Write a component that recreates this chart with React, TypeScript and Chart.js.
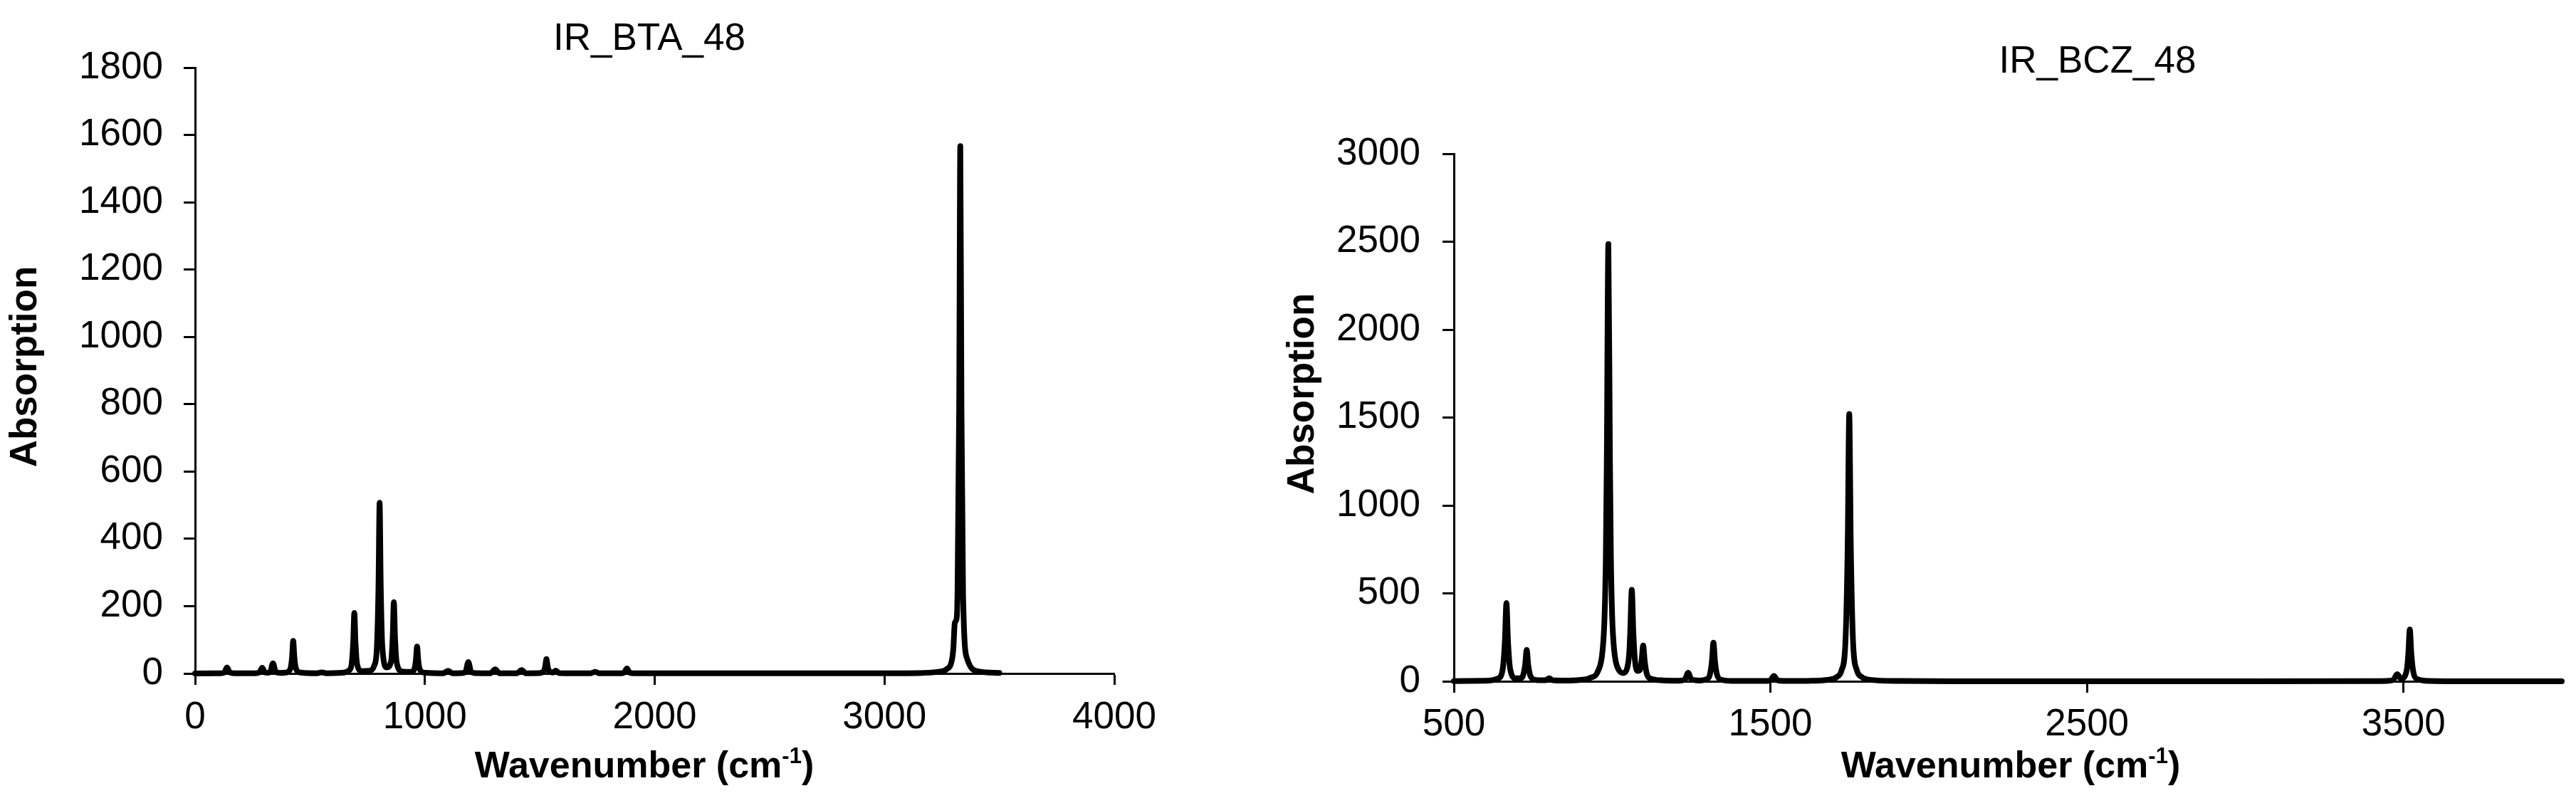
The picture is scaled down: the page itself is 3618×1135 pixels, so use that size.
import React, { useEffect, useRef } from "react";
import { Chart, registerables } from "chart.js";

Chart.register(...registerables);

// ---------------- DATA ----------------
// IR_BTA_48 (left panel)
const BTA_WAVENUMBER = [
  0, 110, 127, 139, 151, 170,
  260, 280, 292, 304, 318, 327, 339, 351, 370,
  395, 415, 422, 427, 432, 439, 460,
  530, 551, 572,
  640, 670, 681, 688, 693, 698, 705, 725, 760, 780, 791, 798, 803, 808, 815, 834, 853, 860, 865, 870, 877, 900, 940, 954, 961, 966, 971, 978, 1000,
  1080, 1101, 1120,
  1160, 1177, 1189, 1201, 1220,
  1285, 1306, 1325,
  1400, 1421, 1440,
  1500, 1517, 1524, 1529, 1534, 1541, 1558, 1569, 1585,
  1720, 1741, 1760,
  1855, 1867, 1879, 1891, 1910,
  2000, 2900,
  3150, 3230, 3270, 3294, 3300, 3306, 3314, 3318, 3325, 3330, 3335, 3342, 3360, 3410, 3500,
];
const BTA_ABSORPTION = [
  0, 0.5, 3, 18, 3, 0.5,
  0.5, 3, 17, 3, 2.2, 5, 30, 5, 1.5,
  2.5, 14.5, 48.5, 97, 48.5, 14.5, 2.5,
  0.5, 3, 0.5,
  2, 9, 27, 91, 180, 91, 28, 7, 8, 24, 76, 254, 507, 256, 77, 18, 36, 109, 212, 108, 34, 6, 4.5, 12.5, 41, 80, 40, 12, 2,
  0.5, 8, 0.5,
  1, 5, 34, 5, 1,
  0.5, 12, 0.5,
  0.3, 10, 0.3,
  1.3, 6.5, 22, 43, 22, 7, 2.6, 8.7, 1,
  0.3, 5, 0.3,
  0.6, 2.5, 15, 2.5, 0.4,
  0.3, 0.3,
  1.3, 4.5, 12.4, 42, 77, 150, 163, 245, 789, 1567, 786, 234, 43, 6, 1.4,
];
const BTA_X_TICKS = [0, 1000, 2000, 3000, 4000];
const BTA_Y_TICKS = [0, 200, 400, 600, 800, 1000, 1200, 1400, 1600, 1800];

// IR_BCZ_48 (right panel)
const BCZ_WAVENUMBER = [
  500, 600, 640, 654, 661, 666, 671, 678, 695, 712, 718, 725, 730, 735, 742, 760, 790, 801, 812, 850,
  900, 930, 955, 970, 976, 980, 983, 988, 993, 996, 1000, 1006, 1020, 1035, 1047, 1054, 1057, 1062, 1067, 1072,
  1080, 1088, 1093, 1098, 1103, 1110, 1125, 1160, 1210, 1230, 1240, 1250, 1275, 1300, 1308, 1315, 1320, 1325, 1332, 1345,
  1380, 1490, 1500, 1511, 1522, 1540, 1620, 1680, 1710, 1725, 1737, 1744, 1749, 1754, 1761, 1773, 1788, 1820, 1900, 2100,
  3000, 3400, 3450, 3468, 3480, 3492, 3505, 3511, 3515, 3520, 3525, 3532, 3545, 3580, 3700, 4000,
];
const BCZ_ABSORPTION = [
  1, 3, 16.5, 67, 224, 445, 225, 68, 17, 18.5, 30, 92, 178, 91, 29, 7.5, 6, 17, 6, 4,
  8, 19, 57, 180, 370, 700, 1245, 2487, 1247, 702, 372, 183, 67, 47, 72, 162, 275, 520, 275, 120,
  59, 65, 119, 203, 112, 39, 13, 5, 3.1, 11.3, 49, 12, 4.4, 13.5, 33, 111, 220, 111, 33, 9,
  2, 2.2, 5.7, 30, 5.8, 1.8, 2.5, 8, 25, 64, 226, 762, 1520, 762, 226, 64, 25, 7.5, 1.7, 0.3,
  0.1, 0.7, 2.5, 8.3, 40, 15, 31, 72, 150, 295, 150, 44, 11.5, 2.1, 0.2, 0,
];
const BCZ_X_TICKS = [500, 1500, 2500, 3500];
const BCZ_Y_TICKS = [0, 500, 1000, 1500, 2000, 2500, 3000];

// ---------------- STYLE ----------------
const FONT_FAMILY = '"Liberation Sans", Arial, Helvetica, sans-serif';
const FONT_SIZE = 53;

type PanelSpec = {
  title: string;
  xs: number[];
  ys: number[];
  xTicks: number[];
  yTicks: number[];
  canvasLeft: number;
  width: number;
  height: number;
  padding: { left: number; right: number; top: number; bottom: number };
  yAxisWidth: number;
  xAxisHeight: number;
  yTickPadding: number;
  xTickPadding: number;
  titlePos: { x: number; y: number };
  yTitlePos: { x: number; y: number };
  xTitlePos: { x: number; y: number };
};

const PANELS: PanelSpec[] = [
  {
    title: "IR_BTA_48",
    xs: BTA_WAVENUMBER,
    ys: BTA_ABSORPTION,
    xTicks: BTA_X_TICKS,
    yTicks: BTA_Y_TICKS,
    canvasLeft: 0,
    width: 1700,
    height: 1135,
    padding: { left: 0, right: 135, top: 95, bottom: 0 },
    yAxisWidth: 274,
    xAxisHeight: 189,
    yTickPadding: 29,
    xTickPadding: 15,
    titlePos: { x: 912, y: 70 },
    yTitlePos: { x: 36, y: 515 },
    xTitlePos: { x: 905, y: 1092 },
  },
  {
    title: "IR_BCZ_48",
    xs: BCZ_WAVENUMBER,
    ys: BCZ_ABSORPTION,
    xTicks: BCZ_X_TICKS,
    yTicks: BCZ_Y_TICKS,
    canvasLeft: 1700,
    width: 1918,
    height: 1135,
    padding: { left: 0, right: 20, top: 216, bottom: 0 },
    yAxisWidth: 342,
    xAxisHeight: 178,
    yTickPadding: 31,
    xTickPadding: 14,
    titlePos: { x: 1246, y: 102 },
    yTitlePos: { x: 130, y: 553 },
    xTitlePos: { x: 1124, y: 1092 },
  },
];

const textPlugin = {
  id: "panelText",
  afterDraw(chart: any, _args: any, opts: any) {
    const ctx: CanvasRenderingContext2D = chart.ctx;
    ctx.save();
    ctx.fillStyle = "#000";

    // chart title
    ctx.font = `${FONT_SIZE}px ${FONT_FAMILY}`;
    ctx.textAlign = "center";
    ctx.textBaseline = "alphabetic";
    ctx.fillText(opts.title, opts.titlePos.x, opts.titlePos.y);

    // y axis title
    ctx.save();
    ctx.translate(opts.yTitlePos.x, opts.yTitlePos.y);
    ctx.rotate(-Math.PI / 2);
    ctx.font = `bold ${FONT_SIZE}px ${FONT_FAMILY}`;
    ctx.textAlign = "center";
    ctx.textBaseline = "middle";
    ctx.fillText("Absorption", 0, 0);
    ctx.restore();

    // x axis title with superscript
    const mainFont = `bold 52px ${FONT_FAMILY}`;
    const supFont = `bold 31px ${FONT_FAMILY}`;
    const part1 = "Wavenumber (cm";
    const sup = "-1";
    const part3 = ")";
    ctx.font = mainFont;
    const w1 = ctx.measureText(part1).width;
    const w3 = ctx.measureText(part3).width;
    ctx.font = supFont;
    const w2 = ctx.measureText(sup).width;
    let x = opts.xTitlePos.x - (w1 + w2 + w3) / 2;
    const y = opts.xTitlePos.y;
    ctx.textAlign = "left";
    ctx.textBaseline = "alphabetic";
    ctx.font = mainFont;
    ctx.fillText(part1, x, y);
    x += w1;
    ctx.font = supFont;
    ctx.fillText(sup, x, y - 20);
    x += w2;
    ctx.font = mainFont;
    ctx.fillText(part3, x, y);
    ctx.restore();
  },
};

function Panel({ spec }: { spec: PanelSpec }) {
  const ref = useRef<HTMLCanvasElement | null>(null);

  useEffect(() => {
    if (!ref.current) return;
    const tickFont = { family: FONT_FAMILY, size: FONT_SIZE, weight: "normal" as const };
    const chart = new Chart(ref.current, {
      type: "line",
      data: {
        datasets: [
          {
            data: spec.xs.map((x, i) => ({ x, y: spec.ys[i] })),
            borderColor: "#000",
            backgroundColor: "#000",
            borderWidth: 8,
            pointRadius: 0,
            pointHoverRadius: 0,
            cubicInterpolationMode: "monotone",
            borderCapStyle: "round",
            borderJoinStyle: "round",
            fill: false,
            clip: false as any,
          },
        ],
      },
      options: {
        animation: false,
        responsive: false,
        devicePixelRatio: 1,
        events: [],
        layout: { padding: spec.padding },
        plugins: {
          legend: { display: false },
          tooltip: { enabled: false },
          title: { display: false },
          panelText: {
            title: spec.title,
            titlePos: spec.titlePos,
            yTitlePos: spec.yTitlePos,
            xTitlePos: spec.xTitlePos,
          },
        } as any,
        scales: {
          x: {
            type: "linear",
            min: spec.xTicks[0],
            max: 4000,
            afterBuildTicks: (scale: any) => {
              scale.ticks = spec.xTicks.map((v) => ({ value: v }));
            },
            afterFit: (scale: any) => {
              scale.height = spec.xAxisHeight;
            },
            grid: {
              display: true,
              drawOnChartArea: false,
              drawTicks: true,
              tickLength: 16,
              tickWidth: 3,
              tickColor: "#000",
            },
            border: { display: true, color: "#000", width: 3 },
            ticks: {
              color: "#000",
              font: tickFont,
              padding: spec.xTickPadding,
              maxRotation: 0,
              autoSkip: false,
              callback: (v: any) => String(v),
            },
          },
          y: {
            type: "linear",
            min: spec.yTicks[0],
            max: spec.yTicks[spec.yTicks.length - 1],
            afterBuildTicks: (scale: any) => {
              scale.ticks = spec.yTicks.map((v) => ({ value: v }));
            },
            afterFit: (scale: any) => {
              scale.width = spec.yAxisWidth;
            },
            grid: {
              display: true,
              drawOnChartArea: false,
              drawTicks: true,
              tickLength: 16,
              tickWidth: 3,
              tickColor: "#000",
            },
            border: { display: true, color: "#000", width: 3 },
            ticks: {
              color: "#000",
              font: tickFont,
              padding: spec.yTickPadding,
              autoSkip: false,
              callback: (v: any) => String(v),
            },
          },
        },
      },
      plugins: [textPlugin as any],
    } as any);
    return () => chart.destroy();
  }, [spec]);

  return (
    <canvas
      ref={ref}
      width={spec.width}
      height={spec.height}
      style={{
        position: "absolute",
        left: spec.canvasLeft,
        top: 0,
        width: spec.width,
        height: spec.height,
        display: "block",
      }}
    />
  );
}

export default function App() {
  return (
    <div
      style={{
        position: "absolute",
        left: 0,
        top: 0,
        width: 3618,
        height: 1135,
        background: "#fff",
        overflow: "hidden",
      }}
    >
      {PANELS.map((p) => (
        <Panel key={p.title} spec={p} />
      ))}
    </div>
  );
}
